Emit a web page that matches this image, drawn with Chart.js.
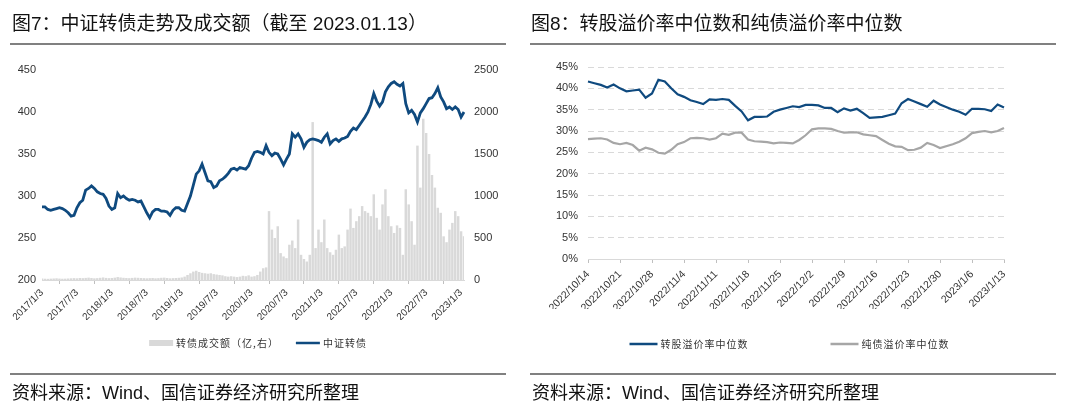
<!DOCTYPE html>
<html>
<head>
<meta charset="utf-8">
<script src="https://cdn.jsdelivr.net/npm/chart.js@4.4.1/dist/chart.umd.min.js"></script>
<style>
  body { margin: 0; width: 1080px; height: 416px; background: #fff; position: relative; overflow: hidden; }
  canvas { position: absolute; top: 0; }
  .title, .src { position: absolute; font-family: "Liberation Sans", "Noto Sans CJK SC", sans-serif; color: #111; white-space: nowrap; z-index: 2; }
  .title { font-size: 19px; line-height: 19px; top: 14px; }
  .src { font-size: 18px; line-height: 18px; top: 384px; }
  .rule { position: absolute; height: 2px; background: #808080; z-index: 2; }
</style>
</head>
<body>
<canvas id="c1" width="520" height="416" style="left:0"></canvas>
<canvas id="c2" width="560" height="416" style="left:520px"></canvas>

<div class="title" style="left:12px">图7：中证转债走势及成交额（截至 2023.01.13）</div>
<div class="rule" style="left:10px;top:43px;width:496px"></div>
<div class="title" style="left:531px">图8：转股溢价率中位数和纯债溢价率中位数</div>
<div class="rule" style="left:530px;top:43px;width:526px"></div>

<div class="rule" style="left:10px;top:373px;width:496px"></div>
<div class="src" style="left:12px">资料来源：Wind、国信证券经济研究所整理</div>
<div class="rule" style="left:530px;top:373px;width:526px"></div>
<div class="src" style="left:532px">资料来源：Wind、国信证券经济研究所整理</div>

<script>
/* 图7 中证转债走势及成交额：半月取值 */
const dates = [
  "2017/1/3","2017/1/17","2017/2/3","2017/2/17","2017/3/3","2017/3/17","2017/4/3","2017/4/17","2017/5/3","2017/5/17","2017/6/3","2017/6/17",
  "2017/7/3","2017/7/17","2017/8/3","2017/8/17","2017/9/3","2017/9/17","2017/10/3","2017/10/17","2017/11/3","2017/11/17","2017/12/3","2017/12/17",
  "2018/1/3","2018/1/17","2018/2/3","2018/2/17","2018/3/3","2018/3/17","2018/4/3","2018/4/17","2018/5/3","2018/5/17","2018/6/3","2018/6/17",
  "2018/7/3","2018/7/17","2018/8/3","2018/8/17","2018/9/3","2018/9/17","2018/10/3","2018/10/17","2018/11/3","2018/11/17","2018/12/3","2018/12/17",
  "2019/1/3","2019/1/17","2019/2/3","2019/2/17","2019/3/3","2019/3/17","2019/4/3","2019/4/17","2019/5/3","2019/5/17","2019/6/3","2019/6/17",
  "2019/7/3","2019/7/17","2019/8/3","2019/8/17","2019/9/3","2019/9/17","2019/10/3","2019/10/17","2019/11/3","2019/11/17","2019/12/3","2019/12/17",
  "2020/1/3","2020/1/17","2020/2/3","2020/2/17","2020/3/3","2020/3/17","2020/4/3","2020/4/17","2020/5/3","2020/5/17","2020/6/3","2020/6/17",
  "2020/7/3","2020/7/17","2020/8/3","2020/8/17","2020/9/3","2020/9/17","2020/10/3","2020/10/17","2020/11/3","2020/11/17","2020/12/3","2020/12/17",
  "2021/1/3","2021/1/17","2021/2/3","2021/2/17","2021/3/3","2021/3/17","2021/4/3","2021/4/17","2021/5/3","2021/5/17","2021/6/3","2021/6/17",
  "2021/7/3","2021/7/17","2021/8/3","2021/8/17","2021/9/3","2021/9/17","2021/10/3","2021/10/17","2021/11/3","2021/11/17","2021/12/3","2021/12/17",
  "2022/1/3","2022/1/17","2022/2/3","2022/2/17","2022/3/3","2022/3/17","2022/4/3","2022/4/17","2022/5/3","2022/5/17","2022/6/3","2022/6/17",
  "2022/7/3","2022/7/17","2022/8/3","2022/8/17","2022/9/3","2022/9/17","2022/10/3","2022/10/17","2022/11/3","2022/11/17","2022/12/3","2022/12/17",
  "2023/1/3","2023/1/13"
];
const leftTicks = ["2017/1/3","2017/7/3","2018/1/3","2018/7/3","2019/1/3","2019/7/3","2020/1/3",
  "2020/7/3","2021/1/3","2021/7/3","2022/1/3","2022/7/3","2023/1/3"];

const csiCB = [
  287,287,284,283,284,285,286,285,283,280,276,277,
  286,292,295,307,309,312,309,305,303,302,297,288,
  284,286,303,298,300,297,295,296,295,293,294,287,
  280,274,281,284,284,282,282,281,277,283,286,286,
  283,282,291,300,313,326,330,338,328,318,317,310,
  312,318,320,323,327,332,333,331,334,333,332,336,
  345,352,353,352,350,360,352,348,351,350,344,337,
  344,350,374,370,374,368,358,364,367,368,367,366,
  364,370,374,362,366,368,365,368,369,371,377,381,
  379,384,389,394,400,409,422,413,407,412,424,430,
  434,436,433,431,434,410,399,402,397,388,399,404,
  410,416,417,422,429,418,412,404,406,403,406,403,
  394,400
];
const turnover = [
  18,15,14,16,18,20,17,15,16,18,20,22,
  20,24,22,25,28,24,20,22,26,30,25,22,
  24,28,35,30,26,24,22,25,28,26,24,22,
  20,22,24,20,22,26,28,24,20,22,24,26,
  30,40,60,80,100,110,95,85,80,75,80,70,
  65,60,55,45,40,45,40,35,40,50,45,55,
  40,45,60,100,140,150,820,600,500,640,320,280,
  260,420,470,380,720,300,250,220,300,1880,380,600,
  450,720,380,330,300,360,540,380,400,600,850,620,
  700,760,880,820,800,760,1020,740,600,900,1080,760,
  640,560,650,620,300,1080,900,700,420,1600,1100,1920,
  1750,1500,1250,1100,860,800,520,450,600,680,820,760,
  580,520
];

/* 图8 溢价率中位数：交易日 */
const days = [
  "2022/10/14","2022/10/17","2022/10/18","2022/10/19","2022/10/20","2022/10/21",
  "2022/10/24","2022/10/25","2022/10/26","2022/10/27","2022/10/28",
  "2022/10/31","2022/11/1","2022/11/2","2022/11/3","2022/11/4",
  "2022/11/7","2022/11/8","2022/11/9","2022/11/10","2022/11/11",
  "2022/11/14","2022/11/15","2022/11/16","2022/11/17","2022/11/18",
  "2022/11/21","2022/11/22","2022/11/23","2022/11/24","2022/11/25",
  "2022/11/28","2022/11/29","2022/11/30","2022/12/1","2022/12/2",
  "2022/12/5","2022/12/6","2022/12/7","2022/12/8","2022/12/9",
  "2022/12/12","2022/12/13","2022/12/14","2022/12/15","2022/12/16",
  "2022/12/19","2022/12/20","2022/12/21","2022/12/22","2022/12/23",
  "2022/12/26","2022/12/27","2022/12/28","2022/12/29","2022/12/30",
  "2023/1/2","2023/1/3","2023/1/4","2023/1/5","2023/1/6",
  "2023/1/9","2023/1/10","2023/1/11","2023/1/12","2023/1/13"
];
const rightTicks = ["2022/10/14","2022/10/21","2022/10/28","2022/11/4","2022/11/11","2022/11/18","2022/11/25",
  "2022/12/2","2022/12/9","2022/12/16","2022/12/23","2022/12/30","2023/1/6","2023/1/13"];

const convPremium = [
  41.6,41.2,40.8,40.2,40.9,40.0,
  39.3,39.5,39.7,37.8,38.8,
  42.0,41.6,40.0,38.6,38.0,
  37.2,36.8,36.3,37.4,37.3,
  37.5,37.3,35.9,34.6,32.5,
  33.3,33.3,33.4,34.5,35.0,
  35.4,35.8,35.6,36.1,36.1,
  36.0,35.4,35.4,34.4,35.3,
  34.8,35.2,34.2,33.1,33.2,
  33.3,33.7,34.1,36.5,37.5,
  36.9,36.3,35.7,37.1,36.2,
  null,35.0,34.5,33.8,35.2,
  35.2,35.1,34.7,36.2,35.5
];
const bondPremium = [
  28.1,28.2,28.3,28.0,27.2,26.9,
  27.2,26.7,25.4,26.1,25.7,
  24.9,24.7,25.6,26.9,27.4,
  28.3,28.4,28.3,28.0,28.3,
  29.4,29.1,29.6,29.6,28.0,
  27.6,27.5,27.4,27.1,27.3,
  27.2,27.1,27.9,29.0,30.4,
  30.6,30.6,30.5,30.0,29.6,
  29.7,29.7,29.2,29.0,28.8,
  27.9,27.0,26.4,26.3,25.5,
  25.6,26.1,27.2,26.7,26.0,
  null,26.9,27.5,28.3,29.5,
  29.8,30.0,29.7,30.0,30.7
];

const BLUE = "#0f4a7f";
const GRAY_BAR = "#d9d9d9";
const GRAY_LINE = "#a6a6a6";

Chart.defaults.font.family = '"Liberation Sans", Arial, sans-serif';
Chart.defaults.color = "#333";

// 图例：手工画在画布底部
const simpleLegend = {
  id: "simpleLegend",
  afterDraw(chart, args, opts) {
    const ctx = chart.ctx;
    ctx.save();
    ctx.font = '10px "Noto Sans CJK SC"';
    ctx.letterSpacing = "1px";
    ctx.textBaseline = "middle";
    const items = chart.data.datasets.map(ds => ({
      text: ds.label,
      color: ds.type === "bar" ? ds.backgroundColor : ds.borderColor,
      bar: ds.type === "bar"
    }));
    const widths = items.map(it => opts.swatch + opts.textGap + ctx.measureText(it.text).width);
    const total = widths.reduce((a, b) => a + b, 0) + opts.gap * (items.length - 1);
    let x = opts.cx - total / 2;
    items.forEach((it, i) => {
      if (it.bar) {
        ctx.fillStyle = it.color;
        ctx.fillRect(x, opts.y - 3, opts.swatch, 6);
      } else {
        ctx.strokeStyle = it.color;
        ctx.lineWidth = 2.5;
        ctx.beginPath();
        ctx.moveTo(x, opts.y);
        ctx.lineTo(x + opts.swatch, opts.y);
        ctx.stroke();
      }
      ctx.fillStyle = "#333";
      ctx.fillText(it.text, x + opts.swatch + opts.textGap, opts.y);
      x += widths[i] + opts.gap;
    });
    ctx.restore();
  }
};

/* 图7 */
new Chart(document.getElementById("c1"), {
  data: {
    labels: dates,
    datasets: [
      {
        type: "bar",
        label: "转债成交额（亿,右）",
        data: turnover,
        yAxisID: "yR",
        backgroundColor: GRAY_BAR,
        barPercentage: 0.85,
        categoryPercentage: 1,
        order: 2
      },
      {
        type: "line",
        label: "中证转债",
        data: csiCB,
        yAxisID: "yL",
        borderColor: BLUE,
        borderWidth: 2.8,
        pointRadius: 0,
        tension: 0,
        order: 1
      }
    ]
  },
  options: {
    responsive: false,
    animation: false,
    layout: { padding: { top: 70, left: 0, right: 0, bottom: 96 } },
    plugins: {
      legend: { display: false },
      tooltip: { enabled: false },
      simpleLegend: { cx: 258, y: 343, gap: 17, swatch: 24, textGap: 3 }
    },
    scales: {
      x: {
        offset: false,
        grid: { display: true, drawOnChartArea: false, tickLength: 4, color: "#bfbfbf" },
        border: { color: "#d9d9d9" },
        ticks: { autoSkip: false, maxRotation: 45, minRotation: 45, padding: 3, font: { size: 10 } },
        afterBuildTicks: ax => { ax.ticks = ax.ticks.filter(t => leftTicks.includes(dates[t.value])); },
        afterFit: ax => { ax.height = 40; }
      },
      yL: {
        position: "left",
        min: 200,
        max: 450,
        ticks: { stepSize: 50, padding: 6, font: { size: 11 }, callback: v => String(v) },
        grid: { display: false, drawTicks: false },
        border: { display: false },
        afterFit: ax => { ax.width = 42; }
      },
      yR: {
        position: "right",
        min: 0,
        max: 2500,
        ticks: { stepSize: 500, padding: 10, font: { size: 11 }, callback: v => String(v) },
        grid: { display: false, drawTicks: false },
        border: { display: false },
        afterFit: ax => { ax.width = 56; }
      }
    }
  },
  plugins: [simpleLegend]
});

/* 图8 */
new Chart(document.getElementById("c2"), {
  type: "line",
  data: {
    labels: days,
    datasets: [
      {
        type: "line",
        label: "转股溢价率中位数",
        data: convPremium,
        borderColor: BLUE,
        borderWidth: 2.2,
        pointRadius: 0,
        spanGaps: true,
        tension: 0
      },
      {
        type: "line",
        label: "纯债溢价率中位数",
        data: bondPremium,
        borderColor: GRAY_LINE,
        borderWidth: 2.2,
        pointRadius: 0,
        spanGaps: true,
        tension: 0
      }
    ]
  },
  options: {
    responsive: false,
    animation: false,
    layout: { padding: { top: 67, left: 0, right: 76, bottom: 107 } },
    plugins: {
      legend: { display: false },
      tooltip: { enabled: false },
      simpleLegend: { cx: 269.5, y: 344, gap: 82, swatch: 28, textGap: 3 }
    },
    scales: {
      x: {
        offset: false,
        grid: { display: true, drawOnChartArea: false, tickLength: 4, color: "#bfbfbf" },
        border: { color: "#d9d9d9" },
        ticks: { autoSkip: false, maxRotation: 45, minRotation: 45, padding: 5, font: { size: 10.5 } },
        afterBuildTicks: ax => { ax.ticks = ax.ticks.filter(t => rightTicks.includes(days[t.value])); },
        afterFit: ax => { ax.height = 50; }
      },
      y: {
        min: 0,
        max: 45,
        ticks: { stepSize: 5, padding: 10, font: { size: 11 }, callback: v => v + "%" },
        grid: { color: "#d9d9d9", drawTicks: false },
        border: { display: false, dash: [6, 4] },
        afterFit: ax => { ax.width = 68; }
      }
    }
  },
  plugins: [simpleLegend]
});
</script>
</body>
</html>
